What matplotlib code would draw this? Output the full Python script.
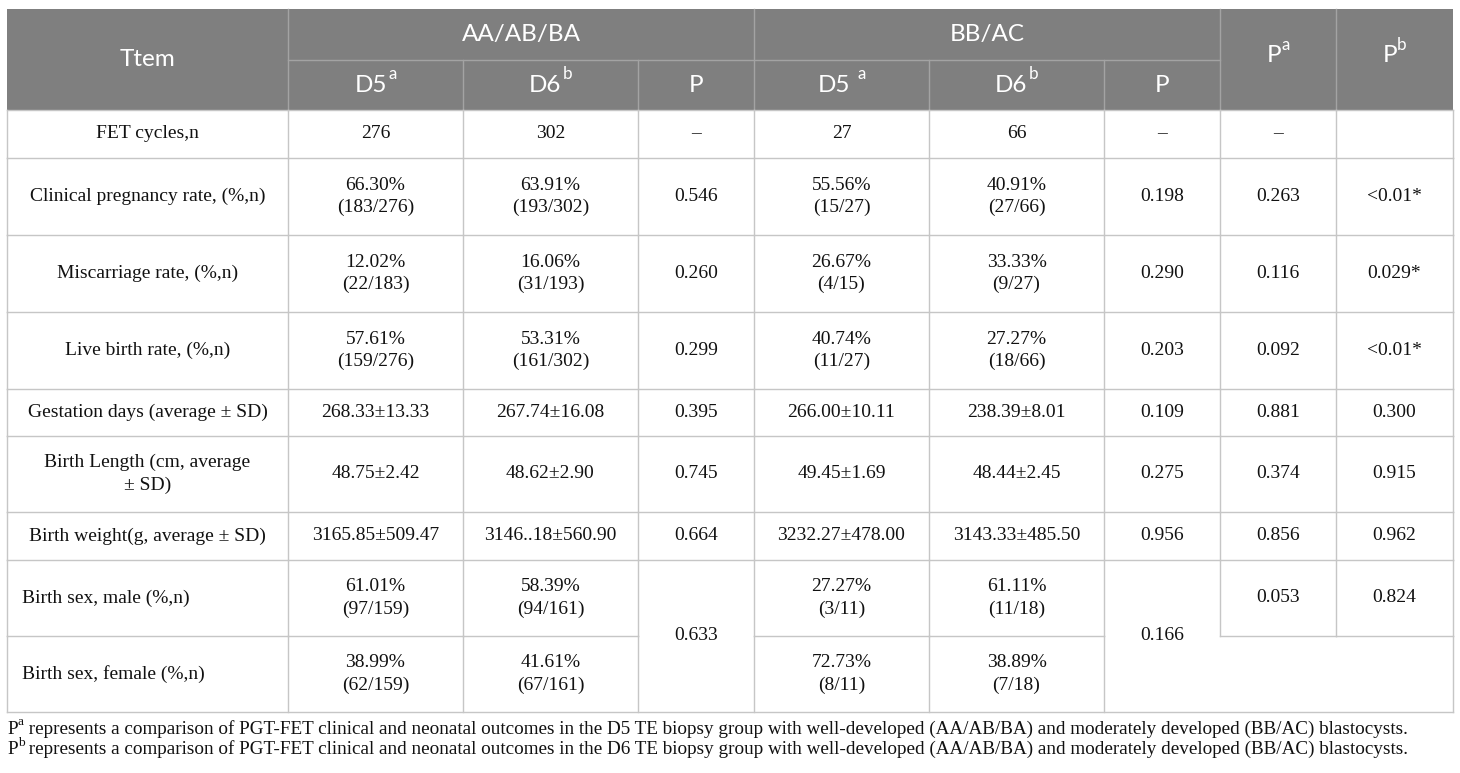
import matplotlib.pyplot as plt

# table content
items = ["FET cycles,n", "Clinical pregnancy rate, (%,n)", "Miscarriage rate, (%,n)",
         "Live birth rate, (%,n)", "Gestation days (average ± SD)",
         "Birth Length (cm, average\n± SD)", "Birth weight(g, average ± SD)",
         "Birth sex, male (%,n)", "Birth sex, female (%,n)"]
aa_d5 = ["276", "66.30%\n(183/276)", "12.02%\n(22/183)", "57.61%\n(159/276)", "268.33±13.33",
         "48.75±2.42", "3165.85±509.47", "61.01%\n(97/159)", "38.99%\n(62/159)"]
aa_d6 = ["302", "63.91%\n(193/302)", "16.06%\n(31/193)", "53.31%\n(161/302)", "267.74±16.08",
         "48.62±2.90", "3146..18±560.90", "58.39%\n(94/161)", "41.61%\n(67/161)"]
aa_p = ["–", "0.546", "0.260", "0.299", "0.395", "0.745", "0.664", "0.633"]
bb_d5 = ["27", "55.56%\n(15/27)", "26.67%\n(4/15)", "40.74%\n(11/27)", "266.00±10.11",
         "49.45±1.69", "3232.27±478.00", "27.27%\n(3/11)", "72.73%\n(8/11)"]
bb_d6 = ["66", "40.91%\n(27/66)", "33.33%\n(9/27)", "27.27%\n(18/66)", "238.39±8.01",
         "48.44±2.45", "3143.33±485.50", "61.11%\n(11/18)", "38.89%\n(7/18)"]
bb_p = ["–", "0.198", "0.290", "0.203", "0.109", "0.275", "0.956", "0.166"]
p_a = ["–", "0.263", "0.116", "0.092", "0.881", "0.374", "0.856", "0.053"]
p_b = ["", "<0.01*", "0.029*", "<0.01*", "0.300", "0.915", "0.962", "0.824"]

footnotes = [("P", "a", " represents a comparison of PGT-FET clinical and neonatal outcomes in the D5 TE biopsy group "
              "with well-developed (AA/AB/BA) and moderately developed (BB/AC) blastocysts."),
             ("P", "b", " represents a comparison of PGT-FET clinical and neonatal outcomes in the D6 TE biopsy group "
              "with well-developed (AA/AB/BA) and moderately developed (BB/AC) blastocysts.")]

# layout (pixels)
col_x = [7, 288, 463, 638, 754, 929, 1104, 1220, 1336, 1453]
head_y = [9, 60, 110]
row_y = [110, 158, 235, 312, 389, 436, 512, 560, 636, 712]

HEAD_BG = "#7f7f7f"
HEAD_LINE = "#a3a3a3"
GRID = "#c6c6c6"
TXT = "#111111"
SANS = ["Lato", "DejaVu Sans"]
SERIF = ["Liberation Serif", "DejaVu Serif"]
BODY_FS = 14
NOTE_FS = 13.8
HEAD_FS = 17.5
LS = 1.38

fig = plt.figure(figsize=(14.6, 7.73), dpi=100)
ax = fig.add_axes([0, 0, 1, 1])
ax.set_xlim(0, 1460)
ax.set_ylim(773, 0)
ax.axis("off")
renderer = fig.canvas.get_renderer()


def text_w(s, size, family):
    t = ax.text(0, 0, s, fontsize=size, family=family)
    w = t.get_window_extent(renderer).width
    t.remove()
    return w


def sup_text(x, y, base, sup, size, family, color, ha="center", gap=0.0, rise=0.62):
    wb = text_w(base, size, family)
    ws = text_w(sup, size * 0.7, family)
    x0 = x - (wb + gap + ws) / 2 if ha == "center" else x
    ax.text(x0, y, base, fontsize=size, family=family, color=color, ha="left", va="center")
    ax.text(x0 + wb + gap, y - size * rise, sup, fontsize=size * 0.7, family=family,
            color=color, ha="left", va="center")
    return wb + gap + ws


# header
ax.add_patch(plt.Rectangle((col_x[0], head_y[0]), col_x[-1] - col_x[0], head_y[2] - head_y[0],
                           facecolor=HEAD_BG, edgecolor="none"))
for x in [col_x[1], col_x[4], col_x[7], col_x[8]]:
    ax.plot([x, x], [head_y[0], head_y[2]], color=HEAD_LINE, lw=1)
for x in [col_x[2], col_x[3], col_x[5], col_x[6]]:
    ax.plot([x, x], [head_y[1], head_y[2]], color=HEAD_LINE, lw=1)
ax.plot([col_x[1], col_x[7]], [head_y[1], head_y[1]], color=HEAD_LINE, lw=1)

mid_all = (head_y[0] + head_y[2]) / 2
mid_top = (head_y[0] + head_y[1]) / 2
mid_bot = (head_y[1] + head_y[2]) / 2
ax.text((col_x[0] + col_x[1]) / 2, mid_all, "Ttem", fontsize=HEAD_FS, family=SANS, color="white",
        ha="center", va="center")
ax.text((col_x[1] + col_x[4]) / 2, mid_top, "AA/AB/BA", fontsize=HEAD_FS, family=SANS, color="white",
        ha="center", va="center")
ax.text((col_x[4] + col_x[7]) / 2, mid_top, "BB/AC", fontsize=HEAD_FS, family=SANS, color="white",
        ha="center", va="center")
sub_heads = [("D5", "a", 1), ("D6", "b", 1), ("P", "", 0), ("D5", "a", 7), ("D6", "b", 1), ("P", "", 0)]
for i, (b, s, g) in enumerate(sub_heads):
    xc = (col_x[i + 1] + col_x[i + 2]) / 2
    if s:
        sup_text(xc, mid_bot, b, s, HEAD_FS, SANS, "white", gap=g)
    else:
        ax.text(xc, mid_bot, b, fontsize=HEAD_FS, family=SANS, color="white", ha="center", va="center")
sup_text((col_x[7] + col_x[8]) / 2, mid_all - 4, "P", "a", HEAD_FS, SANS, "white", gap=0)
sup_text((col_x[8] + col_x[9]) / 2, mid_all - 4, "P", "b", HEAD_FS, SANS, "white", gap=0)

# body grid
n_rows = len(items)
last = n_rows - 1
for i, y in enumerate(row_y):
    if i == last:  # between male and female rows: P columns are merged
        for c in range(len(col_x) - 1):
            if c in (3, 6):
                continue
            ax.plot([col_x[c], col_x[c + 1]], [y, y], color=GRID, lw=1)
    else:
        ax.plot([col_x[0], col_x[-1]], [y, y], color=GRID, lw=1)
for r in range(n_rows):
    y0, y1 = row_y[r], row_y[r + 1]
    for c, x in enumerate(col_x):
        if r == last and c in (7, 8):
            continue
        ax.plot([x, x], [y0, y1], color=GRID, lw=1)

# body text
columns = [aa_d5, aa_d6, aa_p, bb_d5, bb_d6, bb_p, p_a, p_b]
for r in range(n_rows):
    yc = (row_y[r] + row_y[r + 1]) / 2
    if r >= 7:
        ax.text(col_x[0] + 15, yc, items[r], fontsize=BODY_FS, family=SERIF, color=TXT,
                ha="left", va="center")
    else:
        ax.text((col_x[0] + col_x[1]) / 2, yc, items[r], fontsize=BODY_FS, family=SERIF, color=TXT,
                ha="center", va="center", linespacing=LS)
    for c, vals in enumerate(columns):
        if r >= len(vals):
            continue
        xc = (col_x[c + 1] + col_x[c + 2]) / 2
        y = yc
        if c in (2, 5) and r == 7:  # merged over the two sex rows
            y = (row_y[7] + row_y[9]) / 2
        ax.text(xc, y, vals[r], fontsize=BODY_FS, family=SERIF, color=TXT,
                ha="center", va="center", linespacing=LS)

# footnotes
for k, (b, s, rest) in enumerate(footnotes):
    y = 729 + k * 20.5
    w = sup_text(7, y, b, s, NOTE_FS, SERIF, TXT, ha="left", rise=0.5)
    ax.text(7 + w, y, rest, fontsize=NOTE_FS, family=SERIF, color=TXT, ha="left", va="center")

fig.savefig("out.png", dpi=100, facecolor="white")
